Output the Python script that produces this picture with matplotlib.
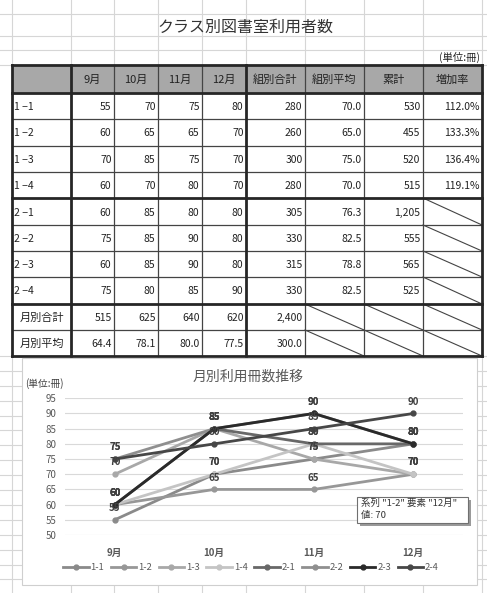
import matplotlib
matplotlib.use("Agg")
import matplotlib.pyplot as plt
from matplotlib.patches import Rectangle

plt.rcParams['font.family'] = ['Noto Sans CJK JP', 'DejaVu Sans']

# data read from the sheet
classes = ['1-1', '1-2', '1-3', '1-4', '2-1', '2-2', '2-3', '2-4']
months = ['9月', '10月', '11月', '12月']
sep = [55, 60, 70, 60, 60, 75, 60, 75]
octo = [70, 65, 85, 70, 85, 85, 85, 80]
nov = [75, 65, 75, 80, 80, 90, 90, 85]
dec = [80, 70, 70, 70, 80, 80, 80, 90]
class_total = [280, 260, 300, 280, 305, 330, 315, 330]
class_avg = [70.0, 65.0, 75.0, 70.0, 76.3, 82.5, 78.8, 82.5]
cumulative = [530, 455, 520, 515, 1205, 555, 565, 525]
growth = [112.0, 133.3, 136.4, 119.1, None, None, None, None]
month_total = [515, 625, 640, 620]
month_avg = [64.4, 78.1, 80.0, 77.5]
grand_total = 2400
grand_avg = 300.0
headers = ['', '9月', '10月', '11月', '12月', '組別合計', '組別平均', '累計', '増加率']

series_colors = ['#8a8a8a', '#979797', '#a8a8a8', '#c4c4c4',
                 '#686868', '#8f8f8f', '#2a2a2a', '#474747']

W, H = 487, 593
fig = plt.figure(figsize=(W / 100, H / 100), dpi=100)

# background sheet in pixel coords
bg = fig.add_axes([0, 0, 1, 1])
bg.set_xlim(0, W)
bg.set_ylim(H, 0)
bg.axis('off')

col_x = [12, 71, 114, 158, 202, 246, 305, 364, 423, 482]
row_y = [65, 93, 119, 146, 172, 198, 225, 251, 277, 304, 330, 356]

grid_c = '#d6d6d6'
for x in col_x:
    bg.plot([x, x], [0, H], color=grid_c, lw=0.8, zorder=0)
sheet_rows = [14, 36, 50, 65]
y = 356.0
while y < H:
    sheet_rows.append(y)
    y += 14.9
for yy in sheet_rows:
    bg.plot([0, W], [yy, yy], color=grid_c, lw=0.8, zorder=0)

# title and unit
bg.text(245, 27, 'クラス別図書室利用者数', ha='center', va='center',
        fontsize=11.5, color='#333333', zorder=3)
bg.text(480, 57, '(単位:冊)', ha='right', va='center', fontsize=7.5,
        color='#222222', zorder=3)

# table fills
bg.add_patch(Rectangle((col_x[0], row_y[0]), col_x[-1] - col_x[0],
                       row_y[1] - row_y[0], facecolor='#a8a8a8', zorder=1))
bg.add_patch(Rectangle((col_x[0], row_y[1]), col_x[-1] - col_x[0],
                       row_y[-1] - row_y[1], facecolor='white', zorder=1))

thin_c, thick_c = '#444444', '#262626'
thick_cols = {0, 1, 5, 9}
thick_rows = {0, 1, 5, 9, 11}
for i, x in enumerate(col_x):
    if i in thick_cols:
        bg.plot([x, x], [row_y[0], row_y[-1]], color=thick_c, lw=2.0, zorder=4)
    else:
        bg.plot([x, x], [row_y[0], row_y[-1]], color=thin_c, lw=0.9, zorder=3)
for j, yy in enumerate(row_y):
    if j in thick_rows:
        bg.plot([col_x[0], col_x[-1]], [yy, yy], color=thick_c, lw=2.0, zorder=4)
    else:
        bg.plot([col_x[0], col_x[-1]], [yy, yy], color=thin_c, lw=0.9, zorder=3)


def cell_mid(r):
    return (row_y[r] + row_y[r + 1]) / 2


def put_num(r, c, txt):
    bg.text(col_x[c + 1] - 2.5, cell_mid(r) + 1, txt, ha='right', va='center',
            fontsize=7.5, color='#222222', zorder=5)


def put_diag(r, c):
    bg.plot([col_x[c], col_x[c + 1]], [row_y[r], row_y[r + 1]],
            color=thin_c, lw=0.8, zorder=3)


for c, h in enumerate(headers):
    if h:
        bg.text((col_x[c] + col_x[c + 1]) / 2, cell_mid(0) + 1, h, ha='center',
                va='center', fontsize=8, color='#222222', zorder=5)

for i, name in enumerate(classes):
    r = i + 1
    bg.text(col_x[0] + 1.5, cell_mid(r) + 1, name.replace('-', ' −'),
            ha='left', va='center', fontsize=7.5, color='#222222', zorder=5)
    vals = [sep[i], octo[i], nov[i], dec[i], class_total[i]]
    for c, v in enumerate(vals):
        put_num(r, c + 1, f'{v:,}')
    put_num(r, 6, f'{class_avg[i]:.1f}')
    put_num(r, 7, f'{cumulative[i]:,}')
    if growth[i] is None:
        put_diag(r, 8)
    else:
        put_num(r, 8, f'{growth[i]:.1f}%')

r_tot, r_avg = 9, 10
bg.text((col_x[0] + col_x[1]) / 2, cell_mid(r_tot) + 1, '月別合計', ha='center',
        va='center', fontsize=8, color='#222222', zorder=5)
bg.text((col_x[0] + col_x[1]) / 2, cell_mid(r_avg) + 1, '月別平均', ha='center',
        va='center', fontsize=8, color='#222222', zorder=5)
for c, v in enumerate(month_total):
    put_num(r_tot, c + 1, f'{v:,}')
for c, v in enumerate(month_avg):
    put_num(r_avg, c + 1, f'{v:.1f}')
put_num(r_tot, 5, f'{grand_total:,}')
put_num(r_avg, 5, f'{grand_avg:.1f}')
for r in (r_tot, r_avg):
    for c in (6, 7, 8):
        put_diag(r, c)

# chart frame
bg.add_patch(Rectangle((22, 358), 455, 227, facecolor='white',
                       edgecolor='#cfcfcf', lw=0.8, zorder=6))
bg.text(248, 377, '月別利用冊数推移', ha='center', va='center', fontsize=10,
        color='#595959', zorder=7)
bg.text(25, 384, '(単位:冊)', ha='left', va='center', fontsize=7,
        color='#404040', zorder=7)

# line chart
ax = fig.add_axes([65 / W, 1 - 535 / H, (463 - 65) / W, (535 - 398.3) / H])
ax.set_zorder(2)
ax.patch.set_alpha(0)
xs = list(range(len(months)))
for i, name in enumerate(classes):
    vals = [sep[i], octo[i], nov[i], dec[i]]
    ax.plot(xs, vals, color=series_colors[i], lw=2, marker='o', ms=3.5,
            label=name, zorder=3 + i * 0.01)
    for x, v in zip(xs, vals):
        ax.annotate(str(v), (x, v), xytext=(0, 8.5), textcoords='offset points',
                    ha='center', va='center', fontsize=7, fontweight='bold',
                    color='#404040', zorder=10)
ax.set_xlim(-0.5, 3.5)
ax.set_ylim(50, 95)
ax.set_yticks(range(50, 96, 5))
ax.set_xticks(xs)
ax.set_xticklabels(months, fontweight='bold')
ax.yaxis.grid(True, color='#d9d9d9', lw=0.8)
ax.set_axisbelow(True)
for s in ax.spines.values():
    s.set_visible(False)
ax.tick_params(length=0, labelsize=7, labelcolor='#595959')
ax.tick_params(axis='x', pad=9)
ax.tick_params(axis='y', pad=6)

leg = fig.legend(*ax.get_legend_handles_labels(), loc='center',
                 bbox_to_anchor=(251 / W, 1 - 568 / H), ncol=8, frameon=False,
                 fontsize=6.8, handlelength=2.7, handletextpad=0.2,
                 columnspacing=0.7, labelcolor='#595959')

# tooltip overlay
ov = fig.add_axes([0, 0, 1, 1])
ov.set_zorder(5)
ov.patch.set_alpha(0)
ov.set_xlim(0, W)
ov.set_ylim(H, 0)
ov.axis('off')
ov.add_patch(Rectangle((360, 500), 111, 26, facecolor='#9a9a9a', lw=0))
ov.add_patch(Rectangle((357, 497), 111, 26, facecolor='white',
                       edgecolor='#707070', lw=0.8))
ov.text(361, 503, f'系列 "{classes[1]}" 要素 "{months[3]}"', ha='left',
        va='center', fontsize=6.8, color='#333333')
ov.text(361, 515, f'値: {dec[1]}', ha='left', va='center', fontsize=6.8,
        color='#333333')

fig.savefig('out.png', dpi=100)
